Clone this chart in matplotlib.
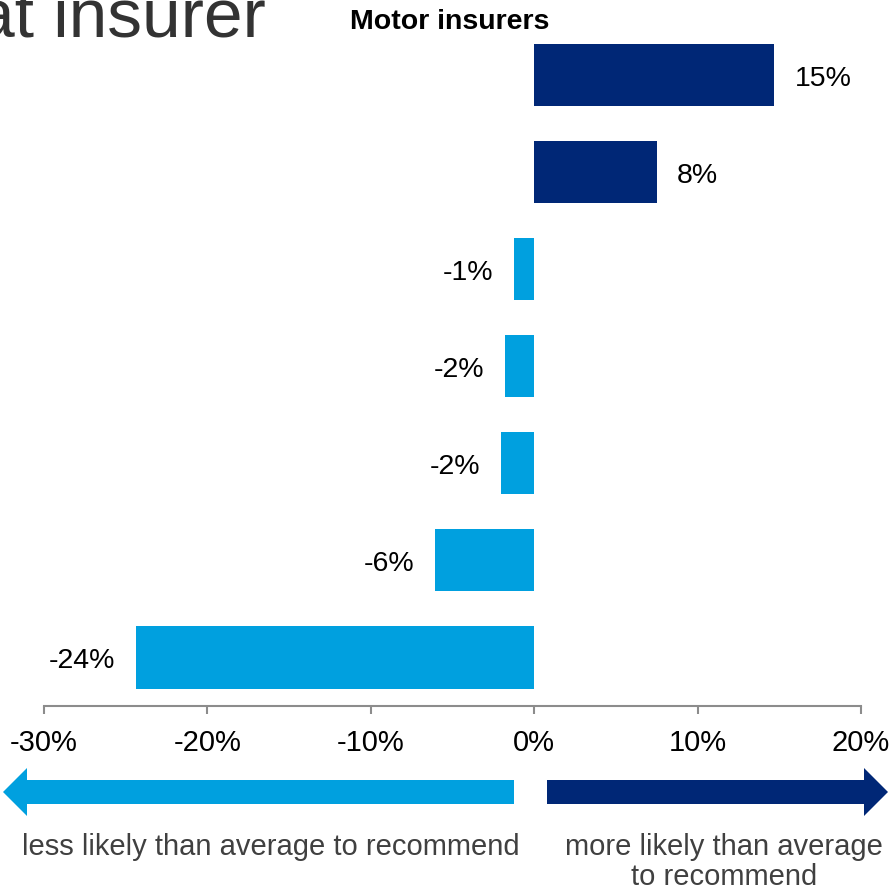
import numpy as np
import matplotlib.pyplot as plt
from matplotlib.patches import Polygon

plt.rcParams['font.family'] = ['Liberation Sans', 'DejaVu Sans']

# net likelihood to recommend, relative to the average (%)
values = [14.7, 7.5, -1.25, -1.8, -2.05, -6.1, -24.4]
xticks = [-30, -20, -10, 0, 10, 20]
tick_labels = ['-30%', '-20%', '-10%', '0%', '10%', '20%']

dark_blue = '#002776'
light_blue = '#00A0DF'

W, H = 892, 895
fig = plt.figure(figsize=(W / 100, H / 100), dpi=100)
ax = fig.add_axes([44 / W, (H - 707) / H, 817 / W, 679.5 / H])

pos = np.arange(len(values))
colors = [dark_blue if v > 0 else light_blue for v in values]
ax.barh(pos, values, height=0.64, color=colors)

for y, v in zip(pos, values):
    off = 14.5 if v > 0 else -14.5
    ax.annotate(f'{v:.0f}%', (v, y), xytext=(off, 0), textcoords='offset points',
                ha='left' if v > 0 else 'right', va='center_baseline', fontsize=20.5)

ax.set_xlim(-30, 20)
ax.set_ylim(len(values) - 0.5, -0.5)
ax.set_xticks(xticks)
ax.set_xticklabels(tick_labels, fontsize=21)
ax.set_yticks([])
for s in ['top', 'right', 'left']:
    ax.spines[s].set_visible(False)
ax.spines['bottom'].set_color('#8C8C8C')
ax.spines['bottom'].set_linewidth(1.5)
ax.tick_params(axis='x', direction='out', length=6, width=1.5, color='#8C8C8C', pad=10)

# overlay in pixel coordinates for headings and direction arrows
ov = fig.add_axes([0, 0, 1, 1])
ov.set_xlim(0, W)
ov.set_ylim(H, 0)
ov.axis('off')

ov.text(266, 36, 'at insurer', fontsize=50, color='#333333', ha='right', va='baseline')
ov.text(450, 29, 'Motor insurers', fontsize=20.5, fontweight='bold', color='black',
        ha='center', va='baseline')

def arrow(tail, back, tip, color):
    yc = 793
    pts = [(tail, yc - 12), (back, yc - 12), (back, yc - 24), (tip, yc),
           (back, yc + 24), (back, yc + 12), (tail, yc + 12)]
    ov.add_patch(Polygon(pts, closed=True, color=color, lw=0))

arrow(514, 27, 3, light_blue)
arrow(547, 864, 888, dark_blue)

ov.text(271, 855, 'less likely than average to recommend', fontsize=21,
        color='#404040', ha='center', va='baseline')
ov.text(724, 855, 'more likely than average', fontsize=21,
        color='#404040', ha='center', va='baseline')
ov.text(724, 885, 'to recommend', fontsize=21,
        color='#404040', ha='center', va='baseline')

fig.savefig('out.png', dpi=100)
